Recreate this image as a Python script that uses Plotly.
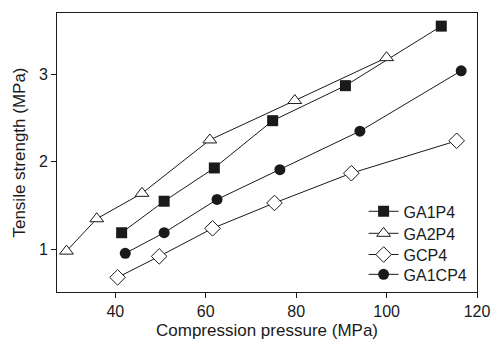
import plotly.graph_objects as go

# Data
ga1p4_x = [41.4, 50.8, 61.9, 74.8, 90.9, 112.1]
ga1p4_y = [1.19, 1.55, 1.93, 2.47, 2.87, 3.55]

ga2p4_x = [29.2, 35.9, 45.9, 60.9, 79.7, 100.0]
ga2p4_y = [0.98, 1.35, 1.64, 2.25, 2.70, 3.19]

gcp4_x = [40.5, 49.7, 61.5, 75.2, 92.2, 115.5]
gcp4_y = [0.68, 0.92, 1.24, 1.53, 1.87, 2.24]

ga1cp4_x = [42.2, 50.8, 62.5, 76.4, 94.1, 116.5]
ga1cp4_y = [0.955, 1.19, 1.57, 1.91, 2.35, 3.04]

x_ticks = [40, 60, 80, 100, 120]
y_ticks = [1, 2, 3]

ink = "#1a1a1a"
font = "Liberation Sans, Arial, sans-serif"

fig = go.Figure()
series = [
    ("GA1P4", ga1p4_x, ga1p4_y, "square", 11),
    ("GA2P4", ga2p4_x, ga2p4_y, "triangle-up-open", 12),
    ("GCP4", gcp4_x, gcp4_y, "diamond-open", 12),
    ("GA1CP4", ga1cp4_x, ga1cp4_y, "circle", 11),
]
legend_ids = ["legend", "legend2", "legend3", "legend4"]
legend_rows_y = [0.289, 0.210, 0.134, 0.063]

for (name, xs, ys, sym, sz), lg in zip(series, legend_ids):
    if sym.endswith("open"):
        marker = dict(symbol=sym.replace("-open", ""), size=sz, color="white",
                      line=dict(color=ink, width=1))
    else:
        marker = dict(symbol=sym, size=sz, color=ink, line=dict(color=ink, width=0))
    fig.add_trace(go.Scatter(x=xs, y=ys, mode="lines+markers", name=name,
                             line=dict(color=ink, width=1), marker=marker,
                             legend=lg))

legend_style = dict(xanchor="left", yanchor="middle", bgcolor="rgba(0,0,0,0)",
                    font=dict(size=16), itemwidth=30)
layout_legends = {}
for lg, yy in zip(legend_ids, legend_rows_y):
    layout_legends[lg] = dict(x=0.73, y=yy, **legend_style)

fig.update_layout(
    width=502, height=348,
    margin=dict(l=57, r=15, t=12, b=51),
    paper_bgcolor="white", plot_bgcolor="white",
    font=dict(family=font, size=16, color=ink),
    showlegend=True,
    **layout_legends,
)
fig.update_xaxes(range=[27.1, 120], tickvals=x_ticks, ticks="outside", ticklen=5,
                 tickcolor=ink, showline=True, linecolor=ink, linewidth=1,
                 mirror=True, showgrid=False, zeroline=False,
                 title=dict(text="Compression pressure (MPa)", standoff=4,
                            font=dict(size=17)))
fig.update_yaxes(range=[0.513, 3.70], tickvals=y_ticks, ticks="outside", ticklen=5,
                 tickcolor=ink, showline=True, linecolor=ink, linewidth=1,
                 mirror=True, showgrid=False, zeroline=False,
                 title=dict(text="Tensile strength (MPa)", standoff=8,
                            font=dict(size=17)))

fig.write_html("out.html", config={"displayModeBar": False},
               post_script="document.body.style.margin='0';document.body.style.overflow='hidden';")
